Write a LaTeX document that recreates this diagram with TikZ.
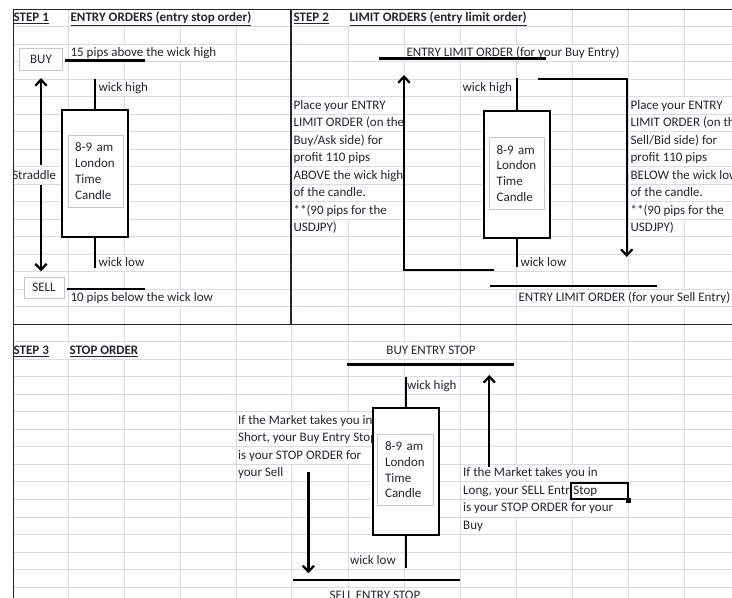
\documentclass[tikz,border=0pt]{standalone}
\usepackage{fontspec}
\setmainfont{Carlito}
\usetikzlibrary{positioning, arrows.meta}
\definecolor{gridgray}{RGB}{218,220,228}
\definecolor{boxgray}{RGB}{200,200,204}
\definecolor{ink}{RGB}{38,38,48}

\begin{document}
\begin{tikzpicture}[
x=0.75pt, y=-0.75pt,
font=\fontsize{9.75}{11.8}\selectfont,
cell/.style={anchor=west, fill=white, text=ink, inner xsep=1pt, inner ysep=0pt, text height=7pt, text depth=2pt, minimum height=12pt},
head/.style={cell, font=\fontsize{9.75}{11.8}\selectfont\bfseries},
tag/.style={draw=boxgray, fill=white, text=ink, minimum width=32pt, minimum height=16.5pt},
candle/.style={draw, line width=1.6pt, fill=white, minimum width=50pt, minimum height=95pt},
timebox/.style={draw=boxgray, fill=white, text=ink, align=left, text width=30.5pt, inner xsep=5.5pt, minimum height=53.5pt},
bar/.style={line width=2pt},
arr/.style={line width=1.7pt, -{Straight Barb[length=4.5pt, width=8.5pt]}},
>=Stealth
]

\useasboundingbox (0,0) rectangle (732,598);
\fill[white] (0,0) rectangle (732,598);

% sheet grid
\foreach \c in {68,124,180,236,291,348,404,460,516,572,628,684}
  \draw[gridgray, line width=0.75pt] (\c,9.5) -- (\c,598);
\foreach \r in {1,...,33}
  \draw[gridgray, line width=0.75pt] (13.5,{9.5+17.5*\r}) -- (732,{9.5+17.5*\r});

% STEP 1
\node[head] (s1) at (12,18.25) {\underline{STEP 1}};
\node[head] (t1) at (69,18.25) {\underline{ENTRY ORDERS (entry stop order)}};
\node[tag] (buy) at (41,59.5) {BUY};
\node[cell] (p15) at (69,53.25) {15 pips above the wick high};
\node[cell] (wh1) at (97,88.25) {wick high};
\node[cell, inner xsep=0pt] (strad) at (12,175.75) {Straddle};
\node[cell] (wl1) at (97,263.25) {wick low};
\node[tag, minimum width=30pt, minimum height=15.75pt] (sell) at (44,287.5) {SELL};
\node[cell] (p10) at (69,298.25) {10 pips below the wick low};

\node[candle] (k1) at (95,173.5) {};
\node[timebox] (tb1) at (95.5,171.2) {8-9 am\\London\\Time\\Candle};
\coordinate (h1) at (95,79);
\coordinate (l1) at (95,268);
\draw[bar] (h1) -- (k1.north);
\draw[bar] (k1.south) -- (l1);

\coordinate (b1a) at (65,60.5);
\coordinate (b1b) at (145,60.5);
\draw[bar] (b1a) -- (b1b);
\coordinate (s1a) at (67,289);
\coordinate (s1b) at (145,289);
\draw[bar] (s1a) -- (s1b);

\draw[arr, shorten <=2pt, shorten >=5.5pt] (buy.south |- strad.north) -- (buy.south);
\draw[arr, shorten <=1pt, shorten >=4pt] (buy.south |- strad.south) -- (buy.south |- sell.north);

% STEP 2
\node[head] (s2) at (292,18.25) {\underline{STEP 2}};
\node[head] (t2) at (348,18.25) {\underline{LIMIT ORDERS (entry limit order)}};
\node[cell] (elb) at (405,53.25) {ENTRY LIMIT ORDER (for your Buy Entry)};
\node[cell] (wh2) at (461,88.25) {wick high};
\node[cell] (wl2) at (519,263.25) {wick low};
\node[cell] (els) at (517,298.25) {ENTRY LIMIT ORDER (for your Sell Entry)};

\begin{scope}
\clip (292,97) rectangle (403,237);
\foreach \t [count=\i] in {Place your ENTRY, LIMIT ORDER (on the, Buy/Ask side) for, profit 110 pips, ABOVE the wick high, of the candle., **(90 pips for the, USDJPY)}
  \node[cell] (pa\i) at (292,{88.25+17.5*\i}) {\t};
\end{scope}
\begin{scope}
\clip (620,97) rectangle (732,237);
\foreach \t [count=\i] in {Place your ENTRY, LIMIT ORDER (on the, Sell/Bid side) for, profit 110 pips, BELOW the wick low, of the candle., **(90 pips for the, USDJPY)}
  \node[cell] (pb\i) at (629,{88.25+17.5*\i}) {\t};
\end{scope}

\node[candle] (k2) at (517,174.3) {};
\node[timebox] (tb2) at (517,173.3) {8-9 am\\London\\Time\\Candle};
\coordinate (h2) at (517,78);
\coordinate (l2) at (517,267);
\draw[bar] (h2) -- (k2.north);
\draw[bar] (k2.south) -- (l2);

\coordinate (e2a) at (379,58.5);
\coordinate (e2b) at (546,58.5);
\draw[bar] (e2a) -- (e2b);
\coordinate (e2c) at (490,286);
\coordinate (e2d) at (657,286);
\draw[bar] (e2c) -- (e2d);

\coordinate (la0) at (494,270);
\coordinate (la1) at (404,75);
\draw[arr] (la0) -| (la1);
\coordinate (ra0) at (538,79.3);
\coordinate (ra1) at (626.7,257);
\draw[arr] (ra0) -| (ra1);

% STEP 3
\node[head] (s3) at (12,350.75) {\underline{STEP 3}};
\node[head] (t3) at (68,350.75) {\underline{STOP ORDER}};
\node[cell, anchor=center] (bes) at (431,350.75) {BUY ENTRY STOP};
\node[cell] (wh3) at (405.5,385.75) {wick high};
\foreach \t [count=\i] in {If the Market takes you in, {Short, your Buy Entry Stop}, is your STOP ORDER for, your Sell}
  \node[cell] (sa\i) at (236.5,{403.25+17.5*\i}) {\t};
\foreach \t [count=\i] in {If the Market takes you in, {Long, your SELL Entry}, is your STOP ORDER for your, Buy}
  \node[cell] (sb\i) at (461.6,{455.75+17.5*\i}) {\t};
\node[cell] (wl3) at (348.5,560.75) {wick low};
\node[cell, anchor=center] (ses) at (375,595.75) {SELL ENTRY STOP};

\node[candle] (k3) at (405.9,471.7) {};
\node[timebox] (tb3) at (405.4,470) {8-9 am\\London\\Time\\Candle};
\coordinate (h3) at (405.9,377.3);
\coordinate (l3) at (405.9,568.3);
\draw[bar] (h3) -- (k3.north);
\draw[bar] (k3.south) -- (l3);

\coordinate (e3a) at (347,364.3);
\coordinate (e3b) at (514,364.3);
\draw[bar] (e3a) -- (e3b);
\coordinate (e3c) at (293,580);
\coordinate (e3d) at (460,580);
\draw[bar] (e3c) -- (e3d);

\coordinate (da0) at (308.4,471.7);
\coordinate (da1) at (308.4,573.3);
\draw[arr] (da0) -- (da1);
\coordinate (ua0) at (489.3,466.7);
\coordinate (ua1) at (489.3,375);
\draw[arr] (ua0) -- (ua1);

% selected cell
\node[cell, anchor=center, draw=black, line width=1.5pt, text width=39pt, inner xsep=2pt, inner ysep=0.6pt] (sel) at (599.3,491.2) {Stop};
\fill (sel.south east) +(-2.5,-2.5) rectangle +(2.5,2.5);

% sheet borders
\draw[ink, line width=1.1pt] (13.5,598) -- (13.5,9.5) -- (732,9.5);
\draw[ink, line width=1.1pt] (13.5,324.5) -- (732,324.5);
\draw[ink, line width=1.1pt] (291,9.5) -- (291,324.5);

\end{tikzpicture}
\end{document}
